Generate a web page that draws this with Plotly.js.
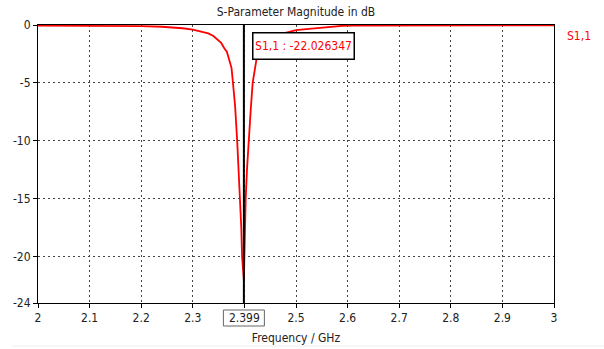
<!DOCTYPE html>
<html>
<head>
<meta charset="utf-8">
<script src="https://cdn.plot.ly/plotly-3.0.1.min.js"></script>
<style>html,body{margin:0;padding:0;background:#fff;}#chart{width:604px;height:349px;}</style>
</head>
<body>
<div id="chart"></div>
<script>
const freqGHz = [2.00, 2.05, 2.10, 2.15, 2.20, 2.24, 2.26, 2.28, 2.30, 2.31, 2.32, 2.33, 2.34, 2.35, 2.355, 2.361, 2.366, 2.3695, 2.372, 2.375, 2.377, 2.379, 2.382, 2.386, 2.389, 2.392, 2.394, 2.3955, 2.397, 2.399, 2.400, 2.401, 2.4025, 2.405, 2.408, 2.412, 2.416, 2.420, 2.424, 2.428, 2.435, 2.445, 2.455, 2.47, 2.485, 2.50, 2.52, 2.54, 2.56, 2.575, 2.59, 2.61, 2.65, 2.70, 2.80, 2.90, 3.00];
const s11dB = [-0.06, -0.06, -0.07, -0.08, -0.10, -0.15, -0.20, -0.28, -0.40, -0.50, -0.62, -0.72, -0.95, -1.30, -1.55, -2.0, -2.3, -2.85, -3.2, -3.7, -4.6, -5.5, -7.0, -10.0, -12.5, -15.0, -17.5, -20.0, -21.0, -22.026347, -20.0, -17.5, -15.0, -12.5, -10.0, -7.5, -5.0, -3.8, -2.8, -2.2, -1.7, -1.3, -1.0, -0.78, -0.60, -0.45, -0.35, -0.26, -0.16, -0.11, -0.07, -0.05, -0.04, -0.04, -0.04, -0.04, -0.04];
const xTickVals = [2, 2.1, 2.2, 2.3, 2.4, 2.5, 2.6, 2.7, 2.8, 2.9, 3];
const xTickText = ["2", "2.1", "2.2", "2.3", "2.399", "2.5", "2.6", "2.7", "2.8", "2.9", "3"];
const yTickVals = [0, -5, -10, -15, -20, -24];
const yTickText = ["0", "-5", "-10", "-15", "-20", "-24"];
const seriesName = "S1,1";
const markerFreq = 2.399;
const markerValue = -22.026347;
const chartTitle = "S-Parameter Magnitude in dB";
const xTitle = "Frequency / GHz";

const FONT = 'Tahoma, "DejaVu Sans Condensed", "Liberation Sans", sans-serif';

const trace = {
  x: freqGHz, y: s11dB, type: 'scatter', mode: 'lines', name: seriesName,
  line: {color: '#ff0000', width: 1.8}, showlegend: false, hoverinfo: 'skip'
};

const layout = {
  width: 604, height: 349,
  margin: {l: 38, r: 50, t: 25, b: 46},
  paper_bgcolor: '#ffffff', plot_bgcolor: '#ffffff',
  font: {family: FONT, size: 12, color: '#222'},
  title: {text: chartTitle, x: 0.5, xref: 'paper', y: 1, yref: 'paper', yanchor: 'bottom', pad: {b: 9},
          font: {family: FONT, size: 12, color: '#222'}},
  xaxis: {
    range: [2, 3], tickvals: xTickVals, ticktext: xTickText,
    showline: true, linecolor: '#000', linewidth: 1, mirror: true,
    ticks: 'outside', ticklen: 4, tickcolor: '#000',
    showgrid: true, gridcolor: '#444', gridwidth: 1, griddash: '2px,3px',
    zeroline: false, tickfont: {family: FONT, size: 12, color: '#222'},
    title: {text: xTitle, standoff: 9, font: {family: FONT, size: 12, color: '#222'}}
  },
  yaxis: {
    range: [-24, 0], tickvals: yTickVals, ticktext: yTickText,
    showline: true, linecolor: '#000', linewidth: 1, mirror: true,
    ticks: 'outside', ticklen: 4, tickcolor: '#000',
    showgrid: true, gridcolor: '#444', gridwidth: 1, griddash: '2px,3px',
    zeroline: false, tickfont: {family: FONT, size: 12, color: '#222'}
  },
  shapes: [
    {type: 'line', xref: 'x', yref: 'paper', x0: markerFreq, x1: markerFreq, y0: 0, y1: 1,
     line: {color: '#000', width: 2}},
    {type: 'rect', xref: 'x', yref: 'paper', xsizemode: 'pixel', ysizemode: 'pixel',
     xanchor: markerFreq, yanchor: 0, x0: -20.5, x1: 20.5, y0: -7, y1: -23,
     line: {color: '#666', width: 1}, fillcolor: 'rgba(0,0,0,0)'},
    {type: 'line', xref: 'paper', yref: 'paper', x0: -0.05, x1: 1.1,
     y0: -0.155, y1: -0.155, line: {color: '#eeeeee', width: 1}}
  ],
  annotations: [
    {xref: 'x', yref: 'paper', x: markerFreq, y: 1, xanchor: 'left', yanchor: 'top',
     xshift: 8, yshift: -7, text: seriesName + ' : ' + markerValue.toFixed(6), showarrow: false,
     font: {family: FONT, size: 12, color: '#ff0000'}, bgcolor: '#ffffff',
     bordercolor: '#000', borderwidth: 1.5, borderpad: 2, width: 96, height: 21, align: 'center', valign: 'middle'},
    {xref: 'paper', yref: 'paper', x: 1, y: 1, xanchor: 'left', yanchor: 'middle',
     xshift: 11, yshift: -11, text: seriesName, showarrow: false,
     font: {family: FONT, size: 12, color: '#ff0000'}}
  ]
};

Plotly.newPlot('chart', [trace], layout, {displayModeBar: false, staticPlot: true});
</script>
</body>
</html>
